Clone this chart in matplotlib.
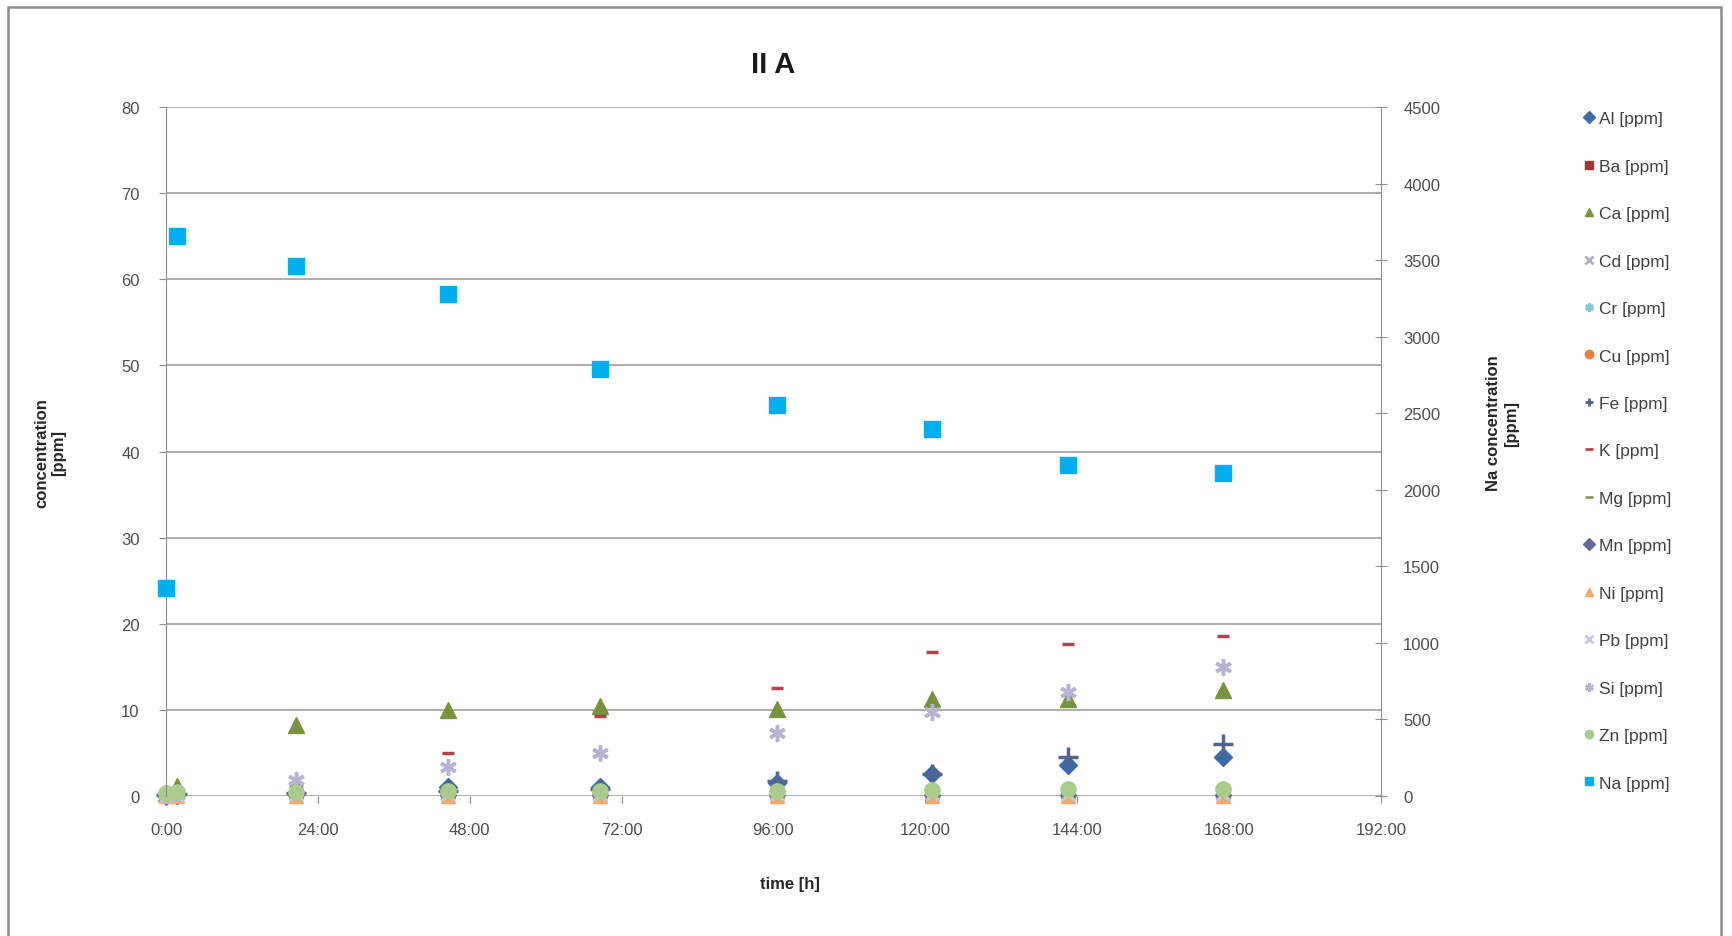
import matplotlib.pyplot as plt
from matplotlib.lines import Line2D
from matplotlib.patches import Rectangle

plt.rcParams['font.family'] = ['Liberation Sans', 'DejaVu Sans']

# tiempos de muestreo [h]
hours = [0, 1.75, 20.5, 44.5, 68.5, 96.5, 121, 142.5, 167]

# concentraciones [ppm]
al = [0.1, 0.2, 0.4, 1.0, 1.0, 1.5, 2.5, 3.6, 4.5]
ba = [0.1, 0.2, 0.9, 0.3, 0.2, 0.2, 0.2, 0.2, 0.2]
ca = [0.3, 1.2, 8.2, 10.0, 10.4, 10.1, 11.3, 11.3, 12.3]
cd = [0.0, 0.0, 0.1, 0.1, 0.1, 0.1, 0.1, 0.1, 0.1]
cr = [0.0, 0.0, 0.1, 0.1, 0.1, 0.1, 0.1, 0.1, 0.1]
cu = [0.0, 0.0, 0.0, 0.0, 0.0, 0.0, 0.0, 0.0, 0.0]
fe = [0.1, 0.2, 0.4, 0.6, 0.8, 1.8, 2.6, 4.5, 6.0]
k = [0.4, 0.6, 1.2, 5.0, 9.3, 12.5, 16.7, 17.7, 18.6]
mg = [0.1, 0.1, 0.2, 0.2, 0.2, 0.2, 0.3, 0.3, 0.3]
mn = [0.0, 0.0, 0.1, 0.1, 0.1, 0.1, 0.1, 0.1, 0.1]
ni = [0.0, 0.0, 0.0, 0.0, 0.0, 0.0, 0.0, 0.0, 0.0]
pb = [0.0, 0.1, 0.2, 0.2, 0.2, 0.2, 0.2, 0.2, 0.2]
si = [0.1, 0.3, 1.9, 3.4, 5.0, 7.3, 9.8, 12.1, 15.0]
zn = [0.4, 0.5, 0.5, 0.6, 0.6, 0.6, 0.7, 0.8, 0.8]
na = [1358, 3655, 3460, 3279, 2788, 2557, 2398, 2160, 2109]

x_ticks = [0, 24, 48, 72, 96, 120, 144, 168, 192]
x_labels = ['{:d}:00'.format(h) for h in x_ticks]

# (nombre, datos, marcador, color, tamaño)
series = [
    ('Al [ppm]', al, 'D', '#3D6AA8', 9),
    ('Ba [ppm]', ba, 's', '#9B3432', 9),
    ('Ca [ppm]', ca, '^', '#77933C', 12),
    ('Cd [ppm]', cd, 'x', '#B0B0C0', 9),
    ('Cr [ppm]', cr, (6, 2, 0), '#86C8DA', 10),
    ('Cu [ppm]', cu, 'o', '#E9803E', 10),
    ('Fe [ppm]', fe, '+', '#53658F', 14),
    ('K [ppm]', k, '_', '#B8404A', 8),
    ('Mg [ppm]', mg, '_', '#8A9A5B', 10),
    ('Mn [ppm]', mn, 'D', '#6A6A9A', 8),
    ('Ni [ppm]', ni, '^', '#F5A766', 10),
    ('Pb [ppm]', pb, 'x', '#C4C8E0', 9),
    ('Si [ppm]', si, (6, 2, 0), '#B4B4D2', 12),
    ('Zn [ppm]', zn, 'o', '#A9CC8C', 11),
]

fig = plt.figure(figsize=(17.33, 9.37), dpi=100)
ax = fig.add_axes([0.0958, 0.1494, 0.7011, 0.7353])
ax2 = ax.twinx()

for name, vals, mk, col, ms in series:
    mew = 2.5 if mk in ('_', '+', 'x') or isinstance(mk, tuple) else 1
    ax.plot(hours, vals, ls='none', marker=mk, ms=ms, color=col, mew=mew, clip_on=False)

ax2.plot(hours, na, ls='none', marker='s', ms=11, color='#00ADEF', clip_on=False)

ax.set_xlim(0, 192)
ax.set_ylim(0, 80)
ax.set_yticks(range(0, 81, 10))
ax.set_xticks(x_ticks)
ax.set_xticklabels(x_labels)
ax.grid(axis='y', color='#A6A6A6', lw=1.3)
ax.set_axisbelow(True)

ax2.set_ylim(0, 4500)
ax2.set_yticks(range(0, 4501, 500))

for a in (ax, ax2):
    for s in a.spines.values():
        s.set_visible(False)
ax.spines['left'].set_visible(True)
ax.spines['left'].set_color('#8C8C8C')
ax2.spines['right'].set_visible(True)
ax2.spines['right'].set_color('#8C8C8C')

ax.tick_params(axis='both', colors='#8C8C8C', labelcolor='#4D4D4D', labelsize=12, length=5)
ax.tick_params(axis='x', pad=14)
ax.tick_params(axis='y', pad=14)
ax2.tick_params(axis='y', direction='inout', colors='#8C8C8C', labelcolor='#4D4D4D',
                labelsize=12, length=8, pad=12)

ax.set_title('II A', fontsize=21, fontweight='bold', color='#1A1A1A', pad=25)

fig.text(0.456, 0.056, 'time [h]', ha='center', va='center', fontsize=12, fontweight='bold', color='#262626')
fig.text(0.029, 0.517, 'concentration\n[ppm]', rotation=90, ha='center', va='center',
         fontsize=12, fontweight='bold', color='#262626')
fig.text(0.867, 0.548, 'Na concentration\n[ppm]', rotation=90, ha='center', va='center',
         fontsize=12, fontweight='bold', color='#262626')

# leyenda
handles = []
for name, vals, mk, col, ms in series:
    mew = 2 if mk in ('_', '+', 'x') or isinstance(mk, tuple) else 1
    handles.append(Line2D([], [], ls='none', marker=mk, ms=6, color=col, mew=mew, label=name))
handles.append(Line2D([], [], ls='none', marker='s', ms=6, color='#00ADEF', label='Na [ppm]'))
fig.legend(handles=handles, loc='upper left', bbox_to_anchor=(0.905, 0.897), frameon=False,
           fontsize=12.5, labelspacing=1.86, handlelength=0.6, handletextpad=0.25,
           labelcolor='#404040')

# marco exterior
fig.patches.append(Rectangle((8 / 1733, -0.02), (1721 - 8) / 1733, 1.02 - 8 / 937,
                             transform=fig.transFigure, fill=False, ec='#8C8C8C', lw=1.8))

fig.savefig('out.png', dpi=100)
